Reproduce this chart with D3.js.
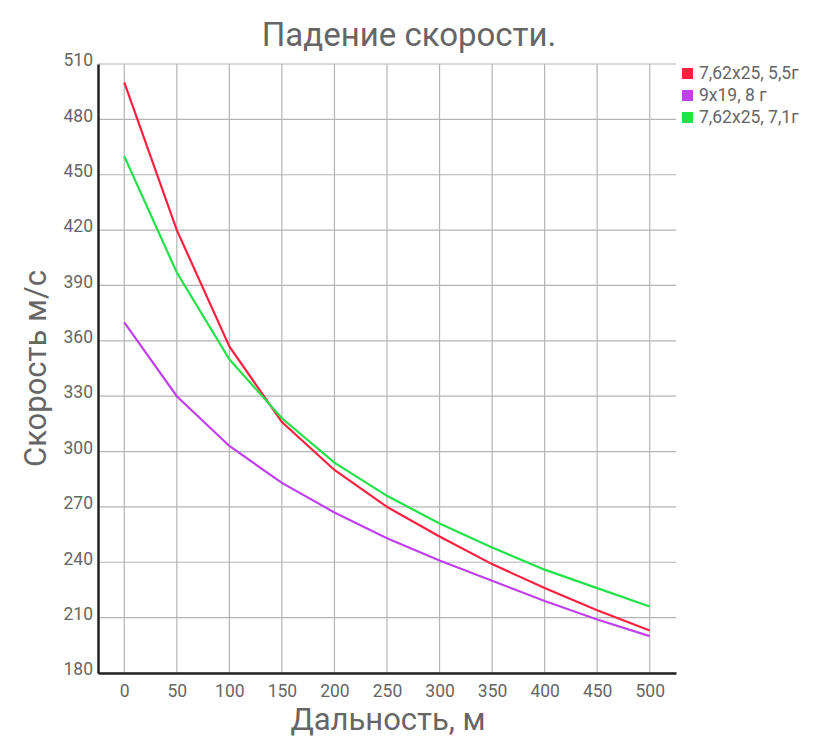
<!DOCTYPE html>
<html>
<head>
<meta charset="utf-8">
<script src="https://cdn.jsdelivr.net/npm/d3@7"></script>
<style>
  body { margin: 0; background: #fff; font-family: Roboto, sans-serif; }
  .grid line { stroke: #b4b4b4; stroke-width: 1.2; }
  .axis text { fill: #666; font-size: 17.5px; font-family: Roboto, sans-serif; }
</style>
</head>
<body>
<div id="chart"></div>
<script>
const distances = [0, 50, 100, 150, 200, 250, 300, 350, 400, 450, 500]
const seriesNames = ["7,62x25, 5,5г", "9x19, 8 г", "7,62x25, 7,1г"]
const red = [500, 420, 357, 316, 290, 270, 254, 239, 226, 214, 203]
const purple = [370, 330, 303, 283, 267, 253, 241, 230, 219, 209, 200]
const green = [460, 397, 350, 318, 294, 276, 261, 248, 236, 226, 216]
const colors = ["#ff2040", "#c040f0", "#22e24a"]
const yTicks = [180, 210, 240, 270, 300, 330, 360, 390, 420, 450, 480, 510]

const series = [red, purple, green]

const width = 819, height = 750
const margin = {top: 64, right: 143, bottom: 77, left: 98}
const w = width - margin.left - margin.right
const h = height - margin.top - margin.bottom

const svg = d3.select("#chart").append("svg")
    .attr("width", width)
    .attr("height", height)

const view = svg.append("g")
    .attr("transform", "translate(" + margin.left + "," + margin.top + ")")

const x = d3.scaleLinear().domain([-25, 525]).range([0, w])
const y = d3.scaleLinear().domain([180, 510]).range([h, 0])

// grid
const grid = view.append("g").attr("class", "grid")
grid.selectAll(".vline")
    .data(distances)
    .enter()
    .append("line")
    .attr("x1", d => x(d)).attr("x2", d => x(d))
    .attr("y1", 0).attr("y2", h)
grid.selectAll(".hline")
    .data(yTicks)
    .enter()
    .append("line")
    .attr("x1", 0).attr("x2", w)
    .attr("y1", d => y(d)).attr("y2", d => y(d))

// axes
const xAxis = view.append("g")
    .attr("class", "axis")
    .attr("transform", "translate(0," + h + ")")
    .call(d3.axisBottom(x).tickValues(distances).tickSize(0).tickPadding(12))
xAxis.select(".domain").attr("stroke", "#222").attr("stroke-width", 2.5)

const yAxis = view.append("g")
    .attr("class", "axis")
    .call(d3.axisLeft(y).tickValues(yTicks).tickSize(0).tickPadding(5))
yAxis.select(".domain").attr("stroke", "#222").attr("stroke-width", 2.5)
yAxis.selectAll("text").attr("dy", "0.1em")

// lines
const line = d3.line()
    .x((d, i) => x(distances[i]))
    .y(d => y(d))

view.selectAll(".series")
    .data(series)
    .enter()
    .append("path")
    .attr("class", "series")
    .attr("fill", "none")
    .attr("stroke", (d, i) => colors[i])
    .attr("stroke-width", 2.2)
    .attr("d", line)

// title
svg.append("text")
    .attr("x", 409)
    .attr("y", 46)
    .attr("text-anchor", "middle")
    .attr("fill", "#666")
    .attr("font-size", 33)
    .text("Падение скорости.")

// axis labels
svg.append("text")
    .attr("x", 388)
    .attr("y", 730)
    .attr("text-anchor", "middle")
    .attr("fill", "#666")
    .attr("font-size", 31)
    .text("Дальность, м")

svg.append("text")
    .attr("transform", "translate(46," + (margin.top + h / 2) + ") rotate(-90)")
    .attr("text-anchor", "middle")
    .attr("fill", "#666")
    .attr("font-size", 31)
    .text("Скорость м/с")

// legend
const legend = svg.selectAll(".legend")
    .data(seriesNames)
    .enter()
    .append("g")
    .attr("class", "legend")
    .attr("transform", (d, i) => "translate(682," + (68 + i * 22) + ")")

legend.append("rect")
    .attr("width", 11).attr("height", 11)
    .attr("fill", (d, i) => colors[i])

legend.append("text")
    .attr("x", 17)
    .attr("y", 11)
    .attr("fill", "#666")
    .attr("font-size", 17.5)
    .text(d => d)
</script>
</body>
</html>
